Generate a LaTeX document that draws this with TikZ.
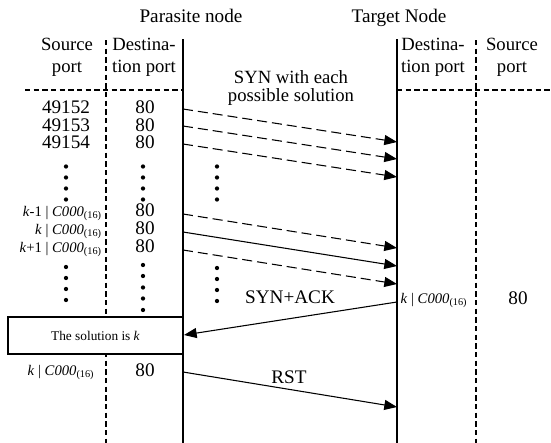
\documentclass[tikz,border=0pt]{standalone}
\usepackage{fontspec}
\setmainfont{Liberation Serif}
\usetikzlibrary{arrows.meta}

\begin{document}
\begin{tikzpicture}[x=0.75pt, y=-0.75pt,
    lifeline/.style={line width=1.1pt},
    portline/.style={line width=0.8pt, dash pattern=on 4pt off 2.5pt},
    synarrow/.style={-{Triangle[length=9.5pt, width=7.5pt]}, line width=0.8pt, dash pattern=on 7.5pt off 3.75pt},
    msgarrow/.style={-{Triangle[length=9.5pt, width=7.5pt]}, line width=0.8pt},
    lbl/.style={font=\fontsize{14.4}{16.5}\selectfont, anchor=base, inner sep=0},
    head/.style={font=\fontsize{14}{16.5}\selectfont, align=center, anchor=base, inner sep=0},
    seq/.style={font=\fontsize{11}{13}\selectfont, anchor=base, inner sep=0},
    dot/.style={circle, fill, minimum size=3.2pt, inner sep=0}
]
\useasboundingbox (0,0) rectangle (551,443);

% Node titles
\node[lbl] (parasite) at (191,22) {Parasite node};
\node[lbl] (target) at (399,22) {Target Node};

% Column headers (base = last line)
\node[head] (psrc) at (67,72) {Source\\port};
\node[head] (pdst) at (144,72) {Destina-\\tion port};
\node[head] (tdst) at (433,72) {Destina-\\tion port};
\node[head] (tsrc) at (512,72) {Source\\port};
\node[head, font=\fontsize{14}{13.5}\selectfont] (syn) at (291,101) {SYN with each\\possible solution};

% Lifelines
\coordinate (ptop) at (183,39);
\coordinate (pbot) at (183,443);
\coordinate (ttop) at (397,39);
\coordinate (tbot) at (397,443);
\draw[lifeline] (ptop) -- (pbot);
\draw[lifeline] (ttop) -- (tbot);

% Port separators
\draw[portline] (106,40) -- (106,443);
\draw[portline] (476,40) -- (476,443);
\draw[portline] (25,90) -- (183,90);
\draw[portline] (397,90) -- (551,90);

% First ports
\node[lbl] (src1) at (66,113.5) {49152};
\node[lbl] (src2) at (66,131) {49153};
\node[lbl] (src3) at (66,148.5) {49154};
\node[lbl] (dst1) at (145,113.5) {80};
\node[lbl] (dst2) at (145,131) {80};
\node[lbl] (dst3) at (145,148.5) {80};

% Ports around the solution
\node[seq, anchor=base east] (srck1) at (102,216.5) {\textit{k}-1 | \textit{C000}\textsubscript{(16)}};
\node[seq, anchor=base east] (srck2) at (102,234.5) {\textit{k} | \textit{C000}\textsubscript{(16)}};
\node[seq, anchor=base east] (srck3) at (102,252.5) {\textit{k}+1 | \textit{C000}\textsubscript{(16)}};
\node[lbl] (dstk1) at (145,216.5) {80};
\node[lbl] (dstk2) at (145,234.5) {80};
\node[lbl] (dstk3) at (145,252.5) {80};

% Dots
\foreach \x in {66,143,217} {
    \foreach \y [count=\j] in {166.5,177.5,188.5,199.5} {
        \node[dot] (up-\x-\j) at (\x,\y) {};
    }
}
\foreach \y [count=\j] in {267,278,289,300} {
    \node[dot] (lowsrc-\j) at (66,\y) {};
}
\foreach \y [count=\j] in {265,276,287.5,298.5,310} {
    \node[dot] (lowdst-\j) at (143,\y) {};
}
\foreach \y [count=\j] in {268,279,290,301} {
    \node[dot] (lowmid-\j) at (217,\y) {};
}

% SYN arrows
\coordinate (p1) at (183,109);
\coordinate (p2) at (183,126);
\coordinate (p3) at (183,144);
\coordinate (p4) at (183,214);
\coordinate (p5) at (183,232);
\coordinate (p6) at (183,250);
\coordinate (t1) at (397,142);
\coordinate (t2) at (397,159);
\coordinate (t3) at (397,177);
\coordinate (t4) at (397,248);
\coordinate (t5) at (397,266);
\coordinate (t6) at (397,284);
\draw[synarrow] (p1) -- (t1);
\draw[synarrow] (p2) -- (t2);
\draw[synarrow] (p3) -- (t3);
\draw[synarrow] (p4) -- (t4);
\draw[msgarrow] (p5) -- (t5);
\draw[synarrow] (p6) -- (t6);

% Reply
\node[lbl] (synack) at (290,303) {SYN+ACK};
\node[seq] (tdstk) at (434,303) {\textit{k} | \textit{C000}\textsubscript{(16)}};
\node[lbl] (tsrck) at (518,304) {80};
\node[draw, line width=0.8pt, fill=white, inner sep=0, minimum width=131.25pt, minimum height=27.75pt,
    font=\fontsize{10}{12}\selectfont] (solution) at (95.5,335.5) {The solution is \textit{k}};
\coordinate (tack) at (397,302);
\coordinate (pack) at (184,335);
\draw[msgarrow] (tack) -- (pack);

% Reset
\node[seq] (srcrst) at (61,375) {\textit{k} | \textit{C000}\textsubscript{(16)}};
\node[lbl] (dstrst) at (145,376) {80};
\node[lbl] (rst) at (289,383) {RST};
\coordinate (prst) at (183,372);
\coordinate (trst) at (397,407);
\draw[msgarrow] (prst) -- (trst);

\end{tikzpicture}
\end{document}
